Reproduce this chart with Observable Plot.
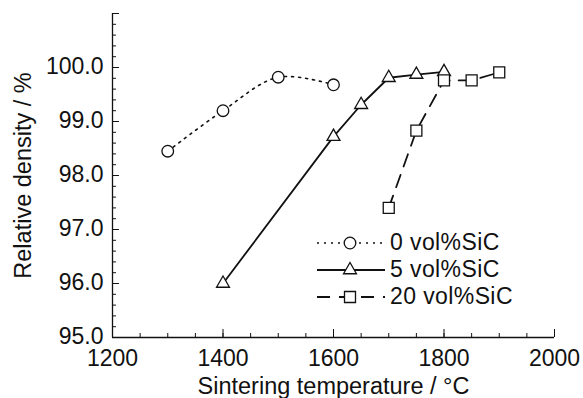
<!DOCTYPE html>
<html>
<head>
<meta charset="utf-8">
<script src="https://cdn.jsdelivr.net/npm/d3@7"></script>
<script src="https://cdn.jsdelivr.net/npm/@observablehq/plot@0.6"></script>
<style>
  html, body { margin: 0; padding: 0; background: #fff; }
  #wrap { position: relative; width: 583px; height: 398px; font-family: "Liberation Sans", Arial, Helvetica, sans-serif; }
  #wrap svg g[aria-label="x-axis label"] text,
  #wrap svg g[aria-label="y-axis label"] text { font-size: 23.5px; }
  #wrap svg g[aria-label="x-axis tick label"] text,
  #wrap svg g[aria-label="y-axis tick label"] text { font-size: 23px; }
  #legend { position: absolute; left: 316px; top: 229px; font-size: 23px; color: #111; }
  #legend .row { display: flex; align-items: center; height: 27px; }
  #legend svg { display: block; }
  #legend span { margin-left: 2px; letter-spacing: 0.4px; }
</style>
</head>
<body>
<div id="wrap"></div>
<script>
// ---- data ----
const seriesLabels = ["0 vol%SiC", "5 vol%SiC", "20 vol%SiC"];
const temp0 = [1300, 1400, 1500, 1600];
const dens0 = [98.45, 99.2, 99.82, 99.68];
const temp5 = [1400, 1600, 1650, 1700, 1750, 1800];
const dens5 = [96.0, 98.72, 99.31, 99.81, 99.87, 99.92];
const temp20 = [1700, 1750, 1800, 1850, 1900];
const dens20 = [97.4, 98.83, 99.76, 99.76, 99.91];
const xTickLabels = [1200, 1400, 1600, 1800, 2000];
const yTickLabels = [95, 96, 97, 98, 99, 100];

const toRows = (xs, ys) => xs.map((x, i) => ({x, y: ys[i]}));
const s0 = toRows(temp0, dens0);
const s5 = toRows(temp5, dens5);
const s20 = toRows(temp20, dens20);

const xMinor = d3.range(1200, 2001, 50);
const yMinor = d3.range(95, 101.001, 0.2).map(v => +v.toFixed(1));
const noText = () => "";

const font = "'Liberation Sans', Arial, Helvetica, sans-serif";

const chart = Plot.plot({
  width: 583,
  height: 398,
  marginLeft: 112,
  marginRight: 29,
  marginTop: 13,
  marginBottom: 61,
  style: {fontFamily: font, fontSize: "22px", color: "#111", background: "white"},
  x: {domain: [1200, 2000]},
  y: {domain: [95, 101]},
  marks: [
    // axis lines
    Plot.ruleX([1200], {stroke: "#111", strokeWidth: 1.3}),
    Plot.ruleY([95], {stroke: "#111", strokeWidth: 1.3}),
    // inward ticks
    Plot.axisY({ticks: yMinor, tickSize: -4, tickFormat: noText, label: null, stroke: "#111"}),
    Plot.axisY({ticks: yTickLabels.concat([101]), tickSize: -7, tickFormat: noText, label: null, stroke: "#111"}),
    Plot.axisX({ticks: xMinor, tickSize: -4, tickFormat: noText, label: null, stroke: "#111"}),
    Plot.axisX({ticks: xTickLabels, tickSize: -8, tickFormat: noText, label: null, stroke: "#111"}),
    // labels
    Plot.axisY({ticks: yTickLabels, tickSize: 0, tickPadding: 9, dy: -1, tickFormat: d3.format(".1f"), fontSize: 23,
      label: "Relative density / %", labelAnchor: "center", labelArrow: "none", labelOffset: 98}),
    Plot.axisX({ticks: xTickLabels, tickSize: 0, tickPadding: 12, tickFormat: d => String(d), fontSize: 23,
      label: "Sintering temperature / °C", labelAnchor: "center", labelArrow: "none", labelOffset: 56}),
    // series lines
    Plot.line(s0, {x: "x", y: "y", curve: "catmull-rom", stroke: "#111", strokeWidth: 1.6, strokeDasharray: "2,5"}),
    Plot.line(s5, {x: "x", y: "y", stroke: "#111", strokeWidth: 1.8}),
    Plot.line(s20, {x: "x", y: "y", stroke: "#111", strokeWidth: 1.8, strokeDasharray: "13,9"}),
    // markers
    Plot.dot(s0, {x: "x", y: "y", symbol: "circle", r: 5.8, fill: "white", stroke: "#111", strokeWidth: 1.3}),
    Plot.dot(s5, {x: "x", y: "y", symbol: "triangle", r: 4.8, fill: "white", stroke: "#111", strokeWidth: 1.3}),
    Plot.dot(s20, {x: "x", y: "y", symbol: "square", r: 6.2, fill: "white", stroke: "#111", strokeWidth: 1.3})
  ]
});
document.getElementById("wrap").appendChild(chart);

// ---- legend (HTML overlay) ----
const legendDefs = [
  {label: seriesLabels[0], symbol: d3.symbolCircle, size: Math.PI * 5.8 * 5.8, dash: "2,5", w: 1.6},
  {label: seriesLabels[1], symbol: d3.symbolTriangle, size: Math.PI * 4.8 * 4.8, dash: null, w: 1.8},
  {label: seriesLabels[2], symbol: d3.symbolSquare, size: Math.PI * 6.2 * 6.2, dash: "13,9", w: 1.8}
];
const legend = document.createElement("div");
legend.id = "legend";
for (const d of legendDefs) {
  const row = document.createElement("div");
  row.className = "row";
  const svg = d3.create("svg").attr("width", 72).attr("height", 20);
  svg.append("line").attr("x1", 1).attr("x2", 69).attr("y1", 10).attr("y2", 10)
    .attr("stroke", "#111").attr("stroke-width", d.w).attr("stroke-dasharray", d.dash);
  svg.append("path").attr("d", d3.symbol(d.symbol, d.size)()).attr("transform", "translate(34,10)")
    .attr("fill", "white").attr("stroke", "#111").attr("stroke-width", 1.3);
  row.appendChild(svg.node());
  const span = document.createElement("span");
  span.textContent = d.label;
  row.appendChild(span);
  legend.appendChild(row);
}
document.getElementById("wrap").appendChild(legend);
</script>
</body>
</html>
